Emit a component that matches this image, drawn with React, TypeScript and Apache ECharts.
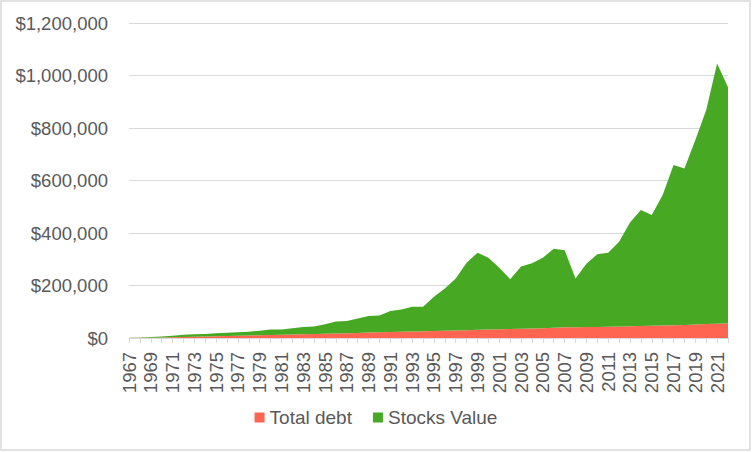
import React, { useEffect, useRef } from "react";
import * as echarts from "echarts";

const years: string[] = [];
for (let y = 1967; y <= 2022; y++) years.push(String(y));

const totalDebt = [
  300, 700, 1200, 1800, 2500, 3500, 4500, 5500, 6500, 7500,
  8500, 9500, 10500, 11500, 12500, 13500, 14500, 15500, 16500, 17500,
  18500, 19500, 21000, 22000, 23000, 24000, 25000, 26000, 27000, 28000,
  29000, 30000, 31000, 32000, 33000, 34000, 35000, 36000, 37500, 39000,
  40500, 41000, 41500, 42000, 43000, 44000, 45000, 46000, 47000, 48000,
  49000, 50000, 51500, 53000, 54500, 56000,
];

const stocksValue = [
  200, 1300, 2800, 4200, 6500, 8500, 9500, 9500, 11500, 12500,
  13200, 14500, 17500, 20500, 19500, 23500, 27500, 28500, 35500, 45500,
  46500, 54500, 63000, 64000, 80000, 85000, 94000, 93000, 130000, 161000,
  198000, 257000, 294000, 274000, 235000, 190000, 237000, 249000, 268500, 301000,
  293500, 186000, 241500, 277000, 282000, 323000, 395000, 442000, 422000, 497000,
  610000, 596000, 702500, 816000, 991500, 899000,
];

const seriesNames = ["Total debt", "Stocks Value"];

export default function App() {
  const ref = useRef<HTMLDivElement>(null);
  useEffect(() => {
    document.body.style.margin = "0";
    if (!ref.current) return;
    const chart = echarts.init(ref.current, null, { renderer: "svg" });
    const font = '"Liberation Sans", Arial, sans-serif';
    chart.setOption({
      animation: false,
      backgroundColor: "#ffffff",
      graphic: [
        {
          type: "rect",
          shape: { x: 1, y: 1, width: 749, height: 449 },
          style: { fill: "none", stroke: "#d9d9d9", lineWidth: 1.5 },
          silent: true,
        },
      ],
      grid: { left: 129, right: 24, top: 23, bottom: 114, containLabel: false },
      legend: {
        data: seriesNames,
        bottom: 20,
        left: "center",
        itemWidth: 10,
        itemHeight: 10,
        itemGap: 21,
        icon: "rect",
        textStyle: { color: "#595959", fontSize: 19, fontFamily: font },
      },
      xAxis: {
        type: "category",
        data: years,
        boundaryGap: false,
        axisLine: { lineStyle: { color: "#d9d9d9", width: 1 } },
        axisTick: { show: true, interval: 0, length: 5, lineStyle: { color: "#d9d9d9" } },
        axisLabel: {
          interval: 1,
          rotate: 90,
          margin: 14,
          color: "#595959",
          fontSize: 18.5,
          fontFamily: font,
        },
        splitLine: { show: false },
      },
      yAxis: {
        type: "value",
        min: 0,
        max: 1200000,
        interval: 200000,
        axisLine: { show: false },
        axisTick: { show: false },
        axisLabel: {
          margin: 21,
          color: "#595959",
          fontSize: 18.5,
          fontFamily: font,
          formatter: (v: number) => "$" + v.toLocaleString("en-US"),
        },
        splitLine: { lineStyle: { color: "#d9d9d9", width: 1 } },
      },
      series: [
        {
          name: seriesNames[0],
          type: "line",
          stack: "total",
          data: totalDebt,
          symbol: "none",
          lineStyle: { width: 0 },
          areaStyle: { color: "#ff6550", opacity: 1 },
          itemStyle: { color: "#ff6550" },
        },
        {
          name: seriesNames[1],
          type: "line",
          stack: "total",
          data: stocksValue,
          symbol: "none",
          lineStyle: { width: 0 },
          areaStyle: { color: "#47a823", opacity: 1 },
          itemStyle: { color: "#47a823" },
        },
      ],
    });
    return () => chart.dispose();
  }, []);
  return <div ref={ref} style={{ width: 752, height: 452 }} />;
}
